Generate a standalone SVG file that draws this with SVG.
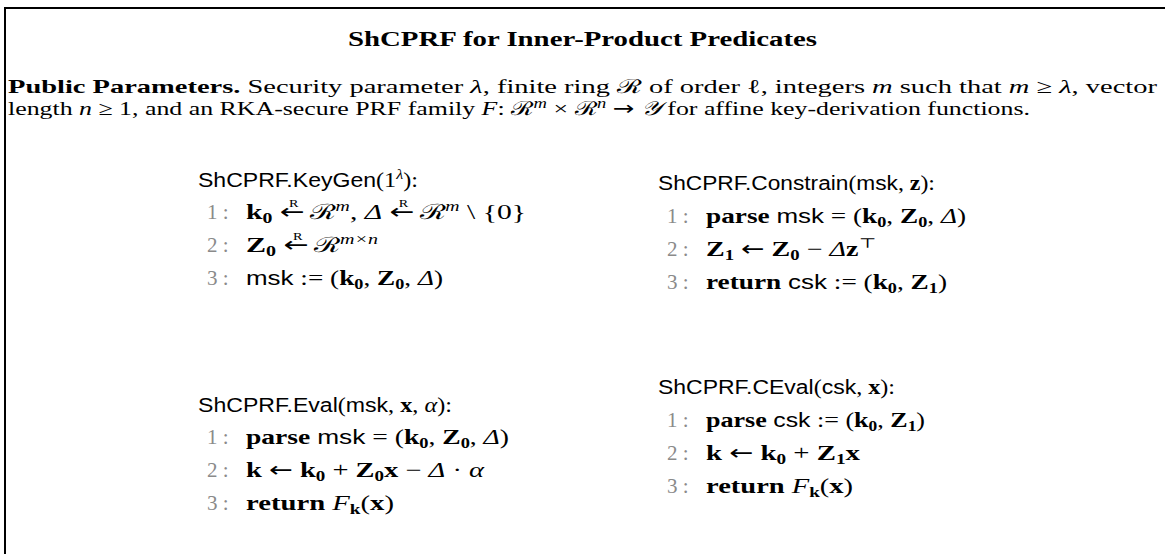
<svg xmlns="http://www.w3.org/2000/svg" width="1165" height="554" viewBox="0 0 1165 554">
<style>
text{font-family:"Liberation Serif","DejaVu Serif",serif;fill:#000;}
.t{font-size:20px;font-weight:bold;}
.p{font-size:19.5px;}
.a{font-size:21px;}
.b{font-weight:bold;}
.i{font-style:italic;}
.s{font-family:"Liberation Sans","DejaVu Sans",sans-serif;font-size:20px;}
.ar{font-family:"DejaVu Sans",sans-serif;}
.g{fill:#8a8a8a;}
.sm{font-size:14px;}
.r{font-size:10px;}
</style>
<rect x="5" y="8" width="1200" height="600" fill="#fff" stroke="#000" stroke-width="2"/>
<g id="title">
<text class="t" x="348" y="46" textLength="469" lengthAdjust="spacingAndGlyphs">ShCPRF for Inner-Product Predicates</text>
</g>
<g id="params">
<text class="p" x="8" y="93" textLength="1149" lengthAdjust="spacingAndGlyphs"><tspan class="b">Public Parameters.</tspan> Security parameter <tspan class="i">λ</tspan>, finite ring ℛ of order <tspan>ℓ</tspan>, integers <tspan class="i">m</tspan> such that <tspan class="i">m</tspan> ≥ <tspan class="i">λ</tspan>, vector</text>
<text class="p" x="8" y="115" textLength="1022" lengthAdjust="spacingAndGlyphs">length <tspan class="i">n</tspan> ≥ 1, and an RKA-secure PRF family <tspan class="i">F</tspan>: ℛ<tspan class="i sm" dy="-7">m</tspan><tspan dy="7"> × </tspan>ℛ<tspan class="i sm" dy="-7">n</tspan><tspan dy="7"> </tspan><tspan class="ar">→</tspan> <tspan class="i">𝒴</tspan> for affine key-derivation functions.</text>
</g>
<g id="keygen">
<text class="a" x="198" y="187" textLength="220" lengthAdjust="spacingAndGlyphs"><tspan class="s">ShCPRF.KeyGen</tspan>(1<tspan class="i sm" dy="-8">λ</tspan><tspan dy="8">):</tspan></text>
<text class="a g" x="207" y="219">1 :</text>
<text class="a" x="246" y="219" textLength="280" lengthAdjust="spacingAndGlyphs"><tspan class="b">k</tspan><tspan class="b sm" dy="4">0</tspan><tspan dy="-4"> </tspan><tspan class="ar">←</tspan><tspan class="r" dx="-11" dy="-12">R</tspan><tspan dx="3" dy="12"> </tspan>ℛ<tspan class="i sm" dy="-8">m</tspan><tspan dy="8">,  </tspan><tspan class="i">Δ</tspan> <tspan class="ar">←</tspan><tspan class="r" dx="-11" dy="-12">R</tspan><tspan dx="3" dy="12"> </tspan>ℛ<tspan class="i sm" dy="-8">m</tspan><tspan dy="8"> \ {0}</tspan></text>
<text class="a g" x="207" y="252">2 :</text>
<text class="a" x="246" y="252" textLength="132" lengthAdjust="spacingAndGlyphs"><tspan class="b">Z</tspan><tspan class="b sm" dy="4">0</tspan><tspan dy="-4"> </tspan><tspan class="ar">←</tspan><tspan class="r" dx="-11" dy="-12">R</tspan><tspan dx="3" dy="12"> </tspan>ℛ<tspan class="i sm" dy="-8">m×n</tspan></text>
<text class="a g" x="207" y="285">3 :</text>
<text class="a" x="246" y="285" textLength="197" lengthAdjust="spacingAndGlyphs"><tspan class="s">msk</tspan> := (<tspan class="b">k</tspan><tspan class="b sm" dy="4">0</tspan><tspan dy="-4">, </tspan><tspan class="b">Z</tspan><tspan class="b sm" dy="4">0</tspan><tspan dy="-4">, </tspan><tspan class="i">Δ</tspan>)</text>
</g>
<g id="constrain">
<text class="a" x="658" y="190" textLength="277" lengthAdjust="spacingAndGlyphs"><tspan class="s">ShCPRF.Constrain</tspan>(<tspan class="s">msk</tspan>, <tspan class="b">z</tspan>):</text>
<text class="a g" x="667" y="223">1 :</text>
<text class="a" x="706" y="223" textLength="260" lengthAdjust="spacingAndGlyphs"><tspan class="b">parse</tspan> <tspan class="s">msk</tspan> = (<tspan class="b">k</tspan><tspan class="b sm" dy="4">0</tspan><tspan dy="-4">, </tspan><tspan class="b">Z</tspan><tspan class="b sm" dy="4">0</tspan><tspan dy="-4">, </tspan><tspan class="i">Δ</tspan>)</text>
<text class="a g" x="667" y="256">2 :</text>
<text class="a" x="706" y="256" textLength="170" lengthAdjust="spacingAndGlyphs"><tspan class="b">Z</tspan><tspan class="b sm" dy="4">1</tspan><tspan dy="-4"> </tspan><tspan class="ar">←</tspan> <tspan class="b">Z</tspan><tspan class="b sm" dy="4">0</tspan><tspan dy="-4"> − </tspan><tspan class="i">Δ</tspan><tspan class="b">z</tspan><tspan class="sm" dy="-8">⊤</tspan></text>
<text class="a g" x="667" y="289">3 :</text>
<text class="a" x="706" y="289" textLength="241" lengthAdjust="spacingAndGlyphs"><tspan class="b">return</tspan> <tspan class="s">csk</tspan> := (<tspan class="b">k</tspan><tspan class="b sm" dy="4">0</tspan><tspan dy="-4">, </tspan><tspan class="b">Z</tspan><tspan class="b sm" dy="4">1</tspan><tspan dy="-4">)</tspan></text>
</g>
<g id="eval">
<text class="a" x="198" y="412" textLength="254" lengthAdjust="spacingAndGlyphs"><tspan class="s">ShCPRF.Eval</tspan>(<tspan class="s">msk</tspan>, <tspan class="b">x</tspan>, <tspan class="i">α</tspan>):</text>
<text class="a g" x="207" y="444">1 :</text>
<text class="a" x="246" y="444" textLength="263" lengthAdjust="spacingAndGlyphs"><tspan class="b">parse</tspan> <tspan class="s">msk</tspan> = (<tspan class="b">k</tspan><tspan class="b sm" dy="4">0</tspan><tspan dy="-4">, </tspan><tspan class="b">Z</tspan><tspan class="b sm" dy="4">0</tspan><tspan dy="-4">, </tspan><tspan class="i">Δ</tspan>)</text>
<text class="a g" x="207" y="477">2 :</text>
<text class="a" x="246" y="477" textLength="238" lengthAdjust="spacingAndGlyphs"><tspan class="b">k</tspan> <tspan class="ar">←</tspan> <tspan class="b">k</tspan><tspan class="b sm" dy="4">0</tspan><tspan dy="-4"> + </tspan><tspan class="b">Z</tspan><tspan class="b sm" dy="4">0</tspan><tspan class="b" dy="-4">x</tspan> − <tspan class="i">Δ</tspan> · <tspan class="i">α</tspan></text>
<text class="a g" x="207" y="510">3 :</text>
<text class="a" x="246" y="510" textLength="148" lengthAdjust="spacingAndGlyphs"><tspan class="b">return</tspan> <tspan class="i">F</tspan><tspan class="b sm" dy="4">k</tspan><tspan dy="-4">(</tspan><tspan class="b">x</tspan>)</text>
</g>
<g id="ceval">
<text class="a" x="658" y="394" textLength="237" lengthAdjust="spacingAndGlyphs"><tspan class="s">ShCPRF.CEval</tspan>(<tspan class="s">csk</tspan>, <tspan class="b">x</tspan>):</text>
<text class="a g" x="667" y="427">1 :</text>
<text class="a" x="706" y="427" textLength="219" lengthAdjust="spacingAndGlyphs"><tspan class="b">parse</tspan> <tspan class="s">csk</tspan> := (<tspan class="b">k</tspan><tspan class="b sm" dy="4">0</tspan><tspan dy="-4">, </tspan><tspan class="b">Z</tspan><tspan class="b sm" dy="4">1</tspan><tspan dy="-4">)</tspan></text>
<text class="a g" x="667" y="460">2 :</text>
<text class="a" x="706" y="460" textLength="154" lengthAdjust="spacingAndGlyphs"><tspan class="b">k</tspan> <tspan class="ar">←</tspan> <tspan class="b">k</tspan><tspan class="b sm" dy="4">0</tspan><tspan dy="-4"> + </tspan><tspan class="b">Z</tspan><tspan class="b sm" dy="4">1</tspan><tspan class="b" dy="-4">x</tspan></text>
<text class="a g" x="667" y="493">3 :</text>
<text class="a" x="706" y="493" textLength="147" lengthAdjust="spacingAndGlyphs"><tspan class="b">return</tspan> <tspan class="i">F</tspan><tspan class="b sm" dy="4">k</tspan><tspan dy="-4">(</tspan><tspan class="b">x</tspan>)</text>
</g>
</svg>
